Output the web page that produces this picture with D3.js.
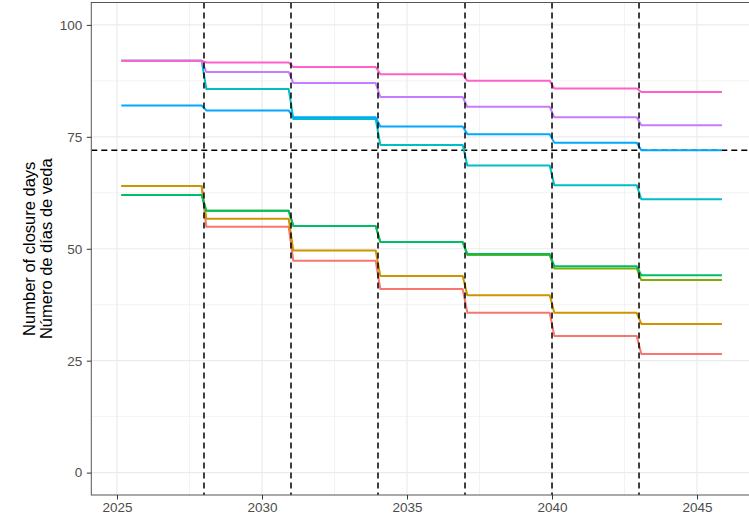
<!DOCTYPE html>
<html>
<head>
<meta charset="utf-8">
<script src="https://cdn.jsdelivr.net/npm/d3@7"></script>
<style>
  html, body { margin: 0; padding: 0; background: #fff; }
  svg { display: block; font-family: "Liberation Sans", Arial, Helvetica, sans-serif; }
</style>
</head>
<body>
<svg id="chart" width="749" height="519"></svg>
<script>
// ---- data ----
const periodStarts = [2025.15, 2028, 2031, 2034, 2037, 2040, 2043];
const seriesEnd = 2045.86;
const breakYears = [2028, 2031, 2034, 2037, 2040, 2043];
const closureLimit = 72;
const seriesNames = ["s1", "s2", "s3", "s4", "s5", "s6", "s7", "s8"];
const seriesColors = ["#F8766D", "#CD9600", "#7CAE00", "#00BE67", "#00BFC4", "#00A9FF", "#C77CFF", "#FF61CC"];
const s1 = [64, 54.9, 47.3, 41.0, 35.7, 30.5, 26.5];
const s2 = [64, 56.7, 49.6, 43.9, 39.6, 35.7, 33.2];
const s3 = [62, 58.5, 55.1, 51.5, 48.6, 45.6, 43.0];
const s4 = [62, 58.5, 55.1, 51.5, 48.85, 46.1, 44.1];
const s5 = [92, 85.7, 79.0, 73.2, 68.6, 64.2, 61.05];
const s6 = [82, 80.9, 79.35, 77.3, 75.6, 73.7, 72.0];
const s7 = [92, 89.5, 87.0, 83.9, 81.7, 79.35, 77.6];
const s8 = [92, 91.6, 90.6, 89.0, 87.5, 85.8, 85.0];
const seriesValues = [s1, s2, s3, s4, s5, s6, s7, s8];
const xTicks = [2025, 2030, 2035, 2040, 2045];
const xMinorTicks = [2027.5, 2032.5, 2037.5, 2042.5];
const yTicks = [0, 25, 50, 75, 100];
const yMinorTicks = [12.5, 37.5, 62.5, 87.5];
const yLabelLines = ["Number of closure days", "Número de días de veda"];

// ---- layout ----
const svg = d3.select("#chart");
const panel = { left: 91.3, right: 752, top: 2.5, bottom: 495 };
const halfStep = 0.08;

const xMin = periodStarts[0], xMax = seriesEnd;
const xPad = (xMax - xMin) * 0.05;
const x = d3.scaleLinear().domain([xMin - xPad, xMax + xPad]).range([panel.left, panel.right]);
const y = d3.scaleLinear().domain([-5, 105]).range([panel.bottom, panel.top]);

const g = svg.append("g");
svg.append("clipPath").attr("id", "pclip").append("rect")
  .attr("x", panel.left).attr("y", panel.top)
  .attr("width", panel.right - panel.left).attr("height", panel.bottom - panel.top);

const grid = g.append("g").attr("clip-path", "url(#pclip)");
// minor grid
grid.selectAll(".xmin").data(xMinorTicks).join("line")
  .attr("x1", d => x(d)).attr("x2", d => x(d)).attr("y1", panel.top).attr("y2", panel.bottom)
  .attr("stroke", "#EBEBEB").attr("stroke-width", 0.6);
grid.selectAll(".ymin").data(yMinorTicks).join("line")
  .attr("y1", d => y(d)).attr("y2", d => y(d)).attr("x1", panel.left).attr("x2", panel.right)
  .attr("stroke", "#EBEBEB").attr("stroke-width", 0.6);
// major grid
grid.selectAll(".xmaj").data(xTicks).join("line")
  .attr("x1", d => x(d)).attr("x2", d => x(d)).attr("y1", panel.top).attr("y2", panel.bottom)
  .attr("stroke", "#EBEBEB").attr("stroke-width", 1.2);
grid.selectAll(".ymaj").data(yTicks).join("line")
  .attr("y1", d => y(d)).attr("y2", d => y(d)).attr("x1", panel.left).attr("x2", panel.right)
  .attr("stroke", "#EBEBEB").attr("stroke-width", 1.2);

const plot = g.append("g").attr("clip-path", "url(#pclip)");

// horizontal reference line
plot.append("line")
  .attr("x1", panel.left).attr("x2", panel.right)
  .attr("y1", y(closureLimit)).attr("y2", y(closureLimit))
  .attr("stroke", "#000").attr("stroke-width", 1.5).attr("stroke-dasharray", "6,4");

// series
function pointsFor(vals) {
  const pts = [];
  vals.forEach((v, i) => {
    const a = i === 0 ? periodStarts[0] : periodStarts[i] + halfStep;
    const b = i === vals.length - 1 ? seriesEnd : periodStarts[i + 1] - halfStep;
    pts.push([a, v], [b, v]);
  });
  return pts;
}
const line = d3.line().x(d => x(d[0])).y(d => y(d[1]));
seriesValues.forEach((vals, i) => {
  plot.append("path")
    .datum(pointsFor(vals))
    .attr("d", line)
    .attr("fill", "none")
    .attr("stroke", seriesColors[i])
    .attr("stroke-width", 2)
    .attr("stroke-linejoin", "round")
    .attr("data-name", seriesNames[i]);
});

// vertical reference lines
plot.selectAll(".vref").data(breakYears).join("line")
  .attr("x1", d => x(d)).attr("x2", d => x(d))
  .attr("y1", panel.top).attr("y2", panel.bottom)
  .attr("stroke", "#000").attr("stroke-width", 1.5).attr("stroke-dasharray", "6,4");

// panel border
g.append("rect")
  .attr("x", panel.left).attr("y", panel.top)
  .attr("width", panel.right - panel.left).attr("height", panel.bottom - panel.top)
  .attr("fill", "none").attr("stroke", "#555").attr("stroke-width", 1);

// axes
const xAxis = d3.axisBottom(x).tickValues(xTicks).tickFormat(d3.format("d")).tickSize(4.5).tickPadding(3);
const yAxis = d3.axisLeft(y).tickValues(yTicks).tickFormat(d3.format("d")).tickSize(4.5).tickPadding(4.5);

const gx = g.append("g").attr("transform", `translate(0,${panel.bottom})`).call(xAxis);
const gy = g.append("g").attr("transform", `translate(${panel.left},0)`).call(yAxis);
[gx, gy].forEach(ax => {
  ax.select(".domain").remove();
  ax.selectAll(".tick line").attr("stroke", "#333").attr("stroke-width", 1);
  ax.selectAll(".tick text").attr("fill", "#4D4D4D").attr("font-size", 13.5)
    .attr("font-family", "'Liberation Sans', Arial, sans-serif");
});

// y label
const yl = svg.append("text")
  .attr("transform", `translate(37,${(panel.top + panel.bottom) / 2}) rotate(-90)`)
  .attr("text-anchor", "middle")
  .attr("font-size", 16.5)
  .attr("fill", "#000");
yLabelLines.forEach((t, i) => {
  yl.append("tspan").attr("x", 0).attr("dy", i === 0 ? "-0.15em" : "1.05em").text(t);
});
</script>
</body>
</html>
